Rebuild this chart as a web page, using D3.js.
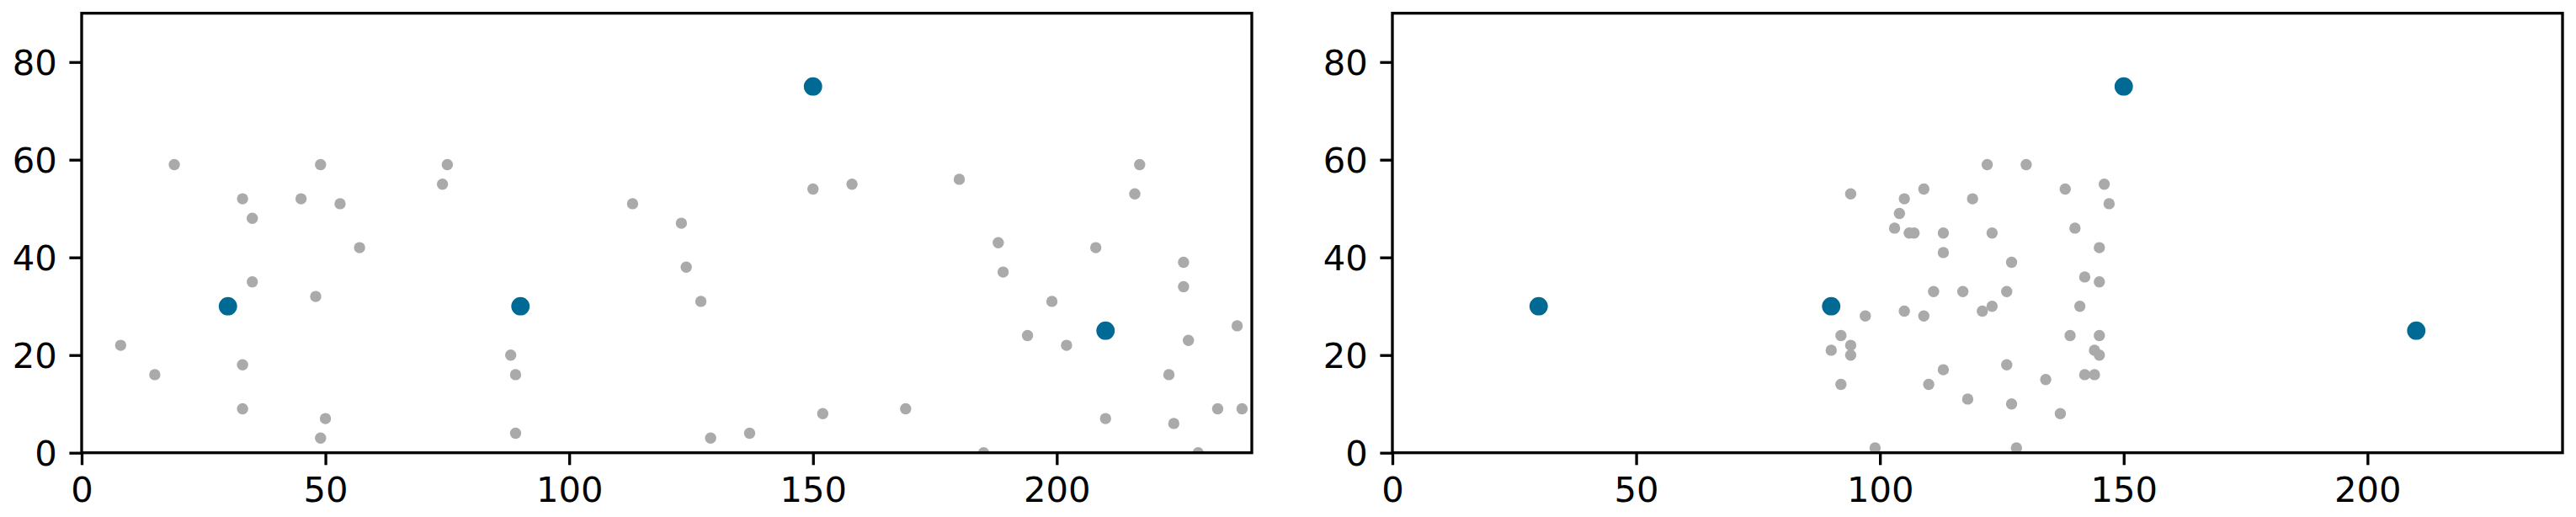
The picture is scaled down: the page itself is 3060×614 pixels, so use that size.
<!DOCTYPE html>
<html>
<head>
<meta charset="utf-8">
<script src="https://cdn.jsdelivr.net/npm/d3@7"></script>
<style>
  body { margin: 0; background: #fff; }
  text { font-family: "DejaVu Sans", sans-serif; }
</style>
</head>
<body>
<div id="chart"></div>
<script>
// cluster centres, same in both panels
const centerX = [30, 90, 150, 210]
const centerY = [30, 30, 75, 25]

// left panel: spread-out points
const leftX = [8, 15, 19, 33, 33, 33, 35, 35, 45, 48, 49, 49, 50, 53, 57, 74, 75, 88, 89, 89,
  113, 123, 124, 127, 129, 137, 150, 152, 158, 169, 180, 185, 188, 189, 194, 199, 202, 208, 210, 216,
  217, 223, 224, 226, 226, 227, 229, 233, 237, 238]
const leftY = [22, 16, 59, 52, 18, 9, 48, 35, 52, 32, 59, 3, 7, 51, 42, 55, 59, 20, 16, 4,
  51, 47, 38, 31, 3, 4, 54, 8, 55, 9, 56, 0, 43, 37, 24, 31, 22, 42, 7, 53,
  59, 16, 6, 39, 34, 23, 0, 9, 26, 9]

// right panel: points bunched together
const rightX = [90, 92, 92, 94, 94, 94, 97, 99, 103, 104, 105, 105, 106, 107, 109, 109, 110, 111, 113, 113,
  113, 117, 118, 119, 121, 122, 123, 123, 126, 126, 127, 127, 128, 130, 134, 137, 138, 139, 140, 141,
  142, 142, 144, 144, 145, 145, 145, 145, 146, 147]
const rightY = [21, 24, 14, 53, 22, 20, 28, 1, 46, 49, 52, 29, 45, 45, 54, 28, 14, 33, 45, 41,
  17, 33, 11, 52, 29, 59, 45, 30, 33, 18, 39, 10, 1, 59, 15, 8, 54, 24, 46, 30,
  36, 16, 21, 16, 42, 35, 24, 20, 55, 51]

const xTicks = [0, 50, 100, 150, 200]
const yTicks = [0, 20, 40, 60, 80]

const W = 3060, H = 614
const lw = 3.33
const panelW = 1390, plotTop = 15.7, plotBottom = 537.7
const panels = [
  { left: 97, xs: leftX, ys: leftY },
  { left: 1654, xs: rightX, ys: rightY }
]

const svg = d3.select('#chart').append('svg')
  .attr('width', W)
  .attr('height', H)

const y = d3.scaleLinear().domain([0, 90]).range([plotBottom, plotTop])

panels.forEach((p, k) => {
  const x = d3.scaleLinear().domain([0, 240]).range([p.left, p.left + panelW])

  svg.append('clipPath').attr('id', 'clip' + k)
    .append('rect')
    .attr('x', p.left).attr('y', plotTop)
    .attr('width', panelW).attr('height', plotBottom - plotTop)

  const g = svg.append('g').attr('clip-path', 'url(#clip' + k + ')')

  g.selectAll('circle.pt')
    .data(d3.zip(p.xs, p.ys))
    .join('circle')
    .attr('class', 'pt')
    .attr('cx', d => x(d[0]))
    .attr('cy', d => y(d[1]))
    .attr('r', 6.7)
    .attr('fill', '#aaaaaa')

  g.selectAll('circle.ctr')
    .data(d3.zip(centerX, centerY))
    .join('circle')
    .attr('class', 'ctr')
    .attr('cx', d => x(d[0]))
    .attr('cy', d => y(d[1]))
    .attr('r', 10.9)
    .attr('fill', '#006994')

  // axes
  const xAxis = svg.append('g')
    .attr('transform', 'translate(0,' + plotBottom + ')')
    .call(d3.axisBottom(x).tickValues(xTicks).tickSize(14.6).tickPadding(14.6).tickSizeOuter(0))
  const yAxis = svg.append('g')
    .attr('transform', 'translate(' + p.left + ',0)')
    .call(d3.axisLeft(y).tickValues(yTicks).tickSize(14.6).tickPadding(14.6).tickSizeOuter(0))

  ;[xAxis, yAxis].forEach(a => {
    a.select('.domain').remove()
    a.selectAll('line').attr('stroke', '#000').attr('stroke-width', lw)
    a.selectAll('text')
      .attr('fill', '#000')
      .style('font-size', '41.7px')
      .style('font-family', '"DejaVu Sans", sans-serif')
  })
  yAxis.selectAll('text').attr('dy', '0.36em')

  // frame
  svg.append('rect')
    .attr('x', p.left).attr('y', plotTop)
    .attr('width', panelW).attr('height', plotBottom - plotTop)
    .attr('fill', 'none')
    .attr('stroke', '#000')
    .attr('stroke-width', lw)
})
</script>
</body>
</html>
